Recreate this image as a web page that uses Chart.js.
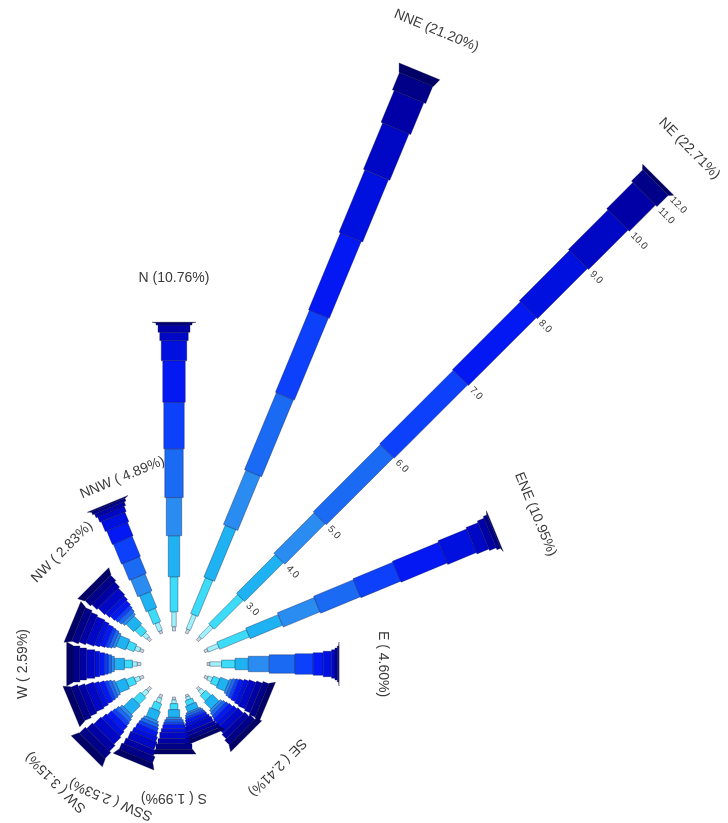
<!DOCTYPE html>
<html>
<head>
<meta charset="utf-8">
<title>Wind rose</title>
<script src="https://cdn.jsdelivr.net/npm/chart.js@4.4.1/dist/chart.umd.min.js"></script>
<style>
  html, body { margin: 0; padding: 0; background: #fff; }
  #wrap { width: 728px; height: 823px; }
</style>
</head>
<body>
<div id="wrap"><canvas id="rose" width="728" height="823"></canvas></div>
<script>
// compass sectors, clockwise from north
const directions = ['N', 'NNE', 'NE', 'ENE', 'E', 'ESE', 'SE', 'SSE', 'S', 'SSW', 'SW', 'WSW', 'W', 'WNW', 'NW', 'NNW'];
const directionTotals = [10.76, 21.20, 22.71, 10.95, 4.60, 2.36, 2.41, 1.63, 1.99, 2.53, 3.15, 2.72, 2.59, 2.68, 2.83, 4.89];
const labelledDirections = ['N', 'NNE', 'NE', 'ENE', 'E', 'SE', 'S', 'SSW', 'SW', 'W', 'NW', 'NNW'];

// wind speed classes (m/s) and the speed ticks written along the NE bar
const speedClasses = ['0-1', '1-2', '2-3', '3-4', '4-5', '5-6', '6-7', '7-8', '8-9', '9-10', '10-11', '11-12', '>12'];
const speedTicks = ['3.0', '4.0', '5.0', '6.0', '7.0', '8.0', '9.0', '10.0', '11.0', '12.0'];
const tickDirection = 'NE';

// frequency (%) of each speed class, per direction
const freqN   = [0.15, 0.52, 1.22, 1.43, 1.33, 1.70, 1.62, 1.45, 0.70, 0.29, 0.25, 0.07, 0.03];
const freqNNE = [0.15, 0.55, 1.35, 1.95, 2.05, 2.90, 3.10, 2.90, 2.35, 1.75, 1.20, 0.65, 0.30];
const freqNE  = [0.15, 0.55, 1.43, 1.91, 1.99, 3.31, 3.62, 3.35, 2.47, 1.95, 1.29, 0.56, 0.13];
const freqENE = [0.12, 0.40, 1.12, 1.22, 1.39, 1.50, 1.50, 1.74, 1.08, 0.45, 0.25, 0.14, 0.04];
const freqE   = [0.10, 0.41, 0.47, 0.46, 0.73, 0.90, 0.63, 0.35, 0.29, 0.12, 0.08, 0.05, 0.01];
const freqESE = [0.12, 0.16, 0.25, 0.32, 0.09, 0.11, 0.11, 0.16, 0.16, 0.26, 0.21, 0.22, 0.19];
const freqSE  = [0.12, 0.16, 0.26, 0.33, 0.09, 0.11, 0.11, 0.16, 0.16, 0.27, 0.21, 0.23, 0.20];
const freqSSE = [0.08, 0.11, 0.18, 0.22, 0.06, 0.08, 0.08, 0.11, 0.11, 0.18, 0.14, 0.15, 0.13];
const freqS   = [0.10, 0.13, 0.21, 0.27, 0.08, 0.09, 0.09, 0.13, 0.13, 0.22, 0.18, 0.19, 0.17];
const freqSSW = [0.13, 0.17, 0.27, 0.34, 0.10, 0.12, 0.12, 0.17, 0.17, 0.28, 0.22, 0.24, 0.20];
const freqSW  = [0.16, 0.21, 0.34, 0.43, 0.12, 0.14, 0.14, 0.21, 0.21, 0.35, 0.28, 0.29, 0.27];
const freqWSW = [0.14, 0.18, 0.29, 0.37, 0.11, 0.12, 0.12, 0.18, 0.18, 0.30, 0.24, 0.25, 0.24];
const freqW   = [0.13, 0.17, 0.28, 0.35, 0.10, 0.12, 0.12, 0.17, 0.17, 0.29, 0.23, 0.24, 0.22];
const freqWNW = [0.13, 0.18, 0.29, 0.36, 0.10, 0.12, 0.12, 0.18, 0.18, 0.30, 0.24, 0.25, 0.23];
const freqNW  = [0.14, 0.19, 0.31, 0.38, 0.11, 0.13, 0.13, 0.19, 0.19, 0.32, 0.25, 0.26, 0.23];
const freqNNW = [0.10, 0.30, 0.50, 0.60, 0.64, 0.63, 0.75, 0.51, 0.37, 0.20, 0.14, 0.10, 0.05];

const freqByDir = [freqN, freqNNE, freqNE, freqENE, freqE, freqESE, freqSE, freqSSE,
                   freqS, freqSSW, freqSW, freqWSW, freqW, freqWNW, freqNW, freqNNW];

// look of the bars
const classColors = ['#c6d8dc', '#9ef0fa', '#3cdcf8', '#1eb2f2', '#2a8cf0', '#1a6af4', '#0c40fa', '#0418f4',
                     '#0010de', '#0008c6', '#0000a6', '#000088', '#000066'];
const classWidthPx    = [3, 4.5, 8, 11.5, 15.5, 18.5, 20.5, 22.5, 25.5, 28.5, 32, 36, 37];
const classEndWidthPx = [3, 4.5, 8, 11.5, 15.5, 18.5, 20.5, 22.5, 25.5, 28.5, 32, 36, 44];

const PX_PER_PCT = 28.7;            // pixels per percent along a bar
const CENTER = { x: 174, y: 664 };  // pixel position of the rose centre
const HOLE = 33 / PX_PER_PCT;       // empty circle in the middle
const LABEL_GAP_PX = 44;
// a couple of labels sit a little off their own axis in the original
const labelGapPx = { NNW: 20 };
const labelTurnDeg = { NNW: 7, SSW: 2.5 };

const rad = d => d * Math.PI / 180;
const axisOf = deg => {
  const a = rad(deg);
  return { a, ux: Math.sin(a), uy: Math.cos(a), px: Math.cos(a), py: -Math.sin(a) };
};

// one closed polygon per (direction, speed class) segment
const datasets = [];
directions.forEach((dir, di) => {
  const { ux, uy, px, py } = axisOf(di * 22.5);
  let r = HOLE;
  freqByDir[di].forEach((f, ci) => {
    if (f <= 0) return;
    const r0 = r, r1 = r + f;
    const h0 = classWidthPx[ci] / 2 / PX_PER_PCT;
    const h1 = classEndWidthPx[ci] / 2 / PX_PER_PCT;
    datasets.push({
      label: dir + ' ' + speedClasses[ci],
      data: [
        { x: r0 * ux + h0 * px, y: r0 * uy + h0 * py },
        { x: r1 * ux + h1 * px, y: r1 * uy + h1 * py },
        { x: r1 * ux - h1 * px, y: r1 * uy - h1 * py },
        { x: r0 * ux - h0 * px, y: r0 * uy - h0 * py }
      ],
      backgroundColor: classColors[ci],
      borderColor: 'rgba(0, 0, 50, 0.45)',
      borderWidth: 0.7,
      pointRadius: 0,
      pointHoverRadius: 0
    });
    r = r1;
  });
});

const rosePlugin = {
  id: 'rose',
  afterDatasetsDraw(chart) {
    const ctx = chart.ctx;
    const sx = v => chart.scales.x.getPixelForValue(v);
    const sy = v => chart.scales.y.getPixelForValue(v);

    chart.data.datasets.forEach((ds, i) => {
      const pts = chart.getDatasetMeta(i).data;
      ctx.beginPath();
      pts.forEach((p, j) => j ? ctx.lineTo(p.x, p.y) : ctx.moveTo(p.x, p.y));
      ctx.closePath();
      ctx.fillStyle = ds.backgroundColor;
      ctx.fill();
      ctx.strokeStyle = ds.borderColor;
      ctx.lineWidth = ds.borderWidth;
      ctx.stroke();
    });

    // direction labels, turned to face outwards
    ctx.save();
    ctx.fillStyle = '#3a3a3a';
    ctx.font = '14px "Liberation Sans", Arial, sans-serif';
    ctx.textAlign = 'center';
    ctx.textBaseline = 'middle';
    labelledDirections.forEach(dir => {
      const di = directions.indexOf(dir);
      const deg = di * 22.5;
      const { ux, uy } = axisOf(deg + (labelTurnDeg[dir] || 0));
      const total = directionTotals[di];
      const gap = (labelGapPx[dir] !== undefined ? labelGapPx[dir] : LABEL_GAP_PX) / PX_PER_PCT;
      const R = HOLE + total + gap;
      ctx.save();
      ctx.translate(sx(R * ux), sy(R * uy));
      ctx.rotate(rad(deg));
      ctx.fillText(dir + ' (' + total.toFixed(2).padStart(5, ' ') + '%)', 0, 0);
      ctx.restore();
    });

    // speed ticks along one bar
    const ti = directions.indexOf(tickDirection);
    const { a, ux, uy, px, py } = axisOf(ti * 22.5);
    const f = freqByDir[ti];
    ctx.font = '10px "Liberation Sans", Arial, sans-serif';
    ctx.textAlign = 'left';
    let cum = HOLE;
    f.forEach((v, ci) => {
      cum += v;
      const k = ci - 2;
      if (k < 0 || k >= speedTicks.length) return;
      const hw = Math.max(classEndWidthPx[ci], classWidthPx[ci + 1] || 0) / 2 + 4;
      const off = hw / PX_PER_PCT;
      ctx.save();
      ctx.translate(sx(cum * ux + off * px), sy(cum * uy + off * py));
      ctx.rotate(a);
      ctx.fillText(speedTicks[k], 0, 0);
      ctx.restore();
    });
    ctx.restore();
  }
};

new Chart(document.getElementById('rose'), {
  type: 'scatter',
  data: { datasets },
  options: {
    responsive: false,
    animation: false,
    devicePixelRatio: 1,
    layout: { padding: 0 },
    plugins: { legend: { display: false }, tooltip: { enabled: false } },
    scales: {
      x: { type: 'linear', display: false, min: -CENTER.x / PX_PER_PCT, max: (728 - CENTER.x) / PX_PER_PCT },
      y: { type: 'linear', display: false, min: -(823 - CENTER.y) / PX_PER_PCT, max: CENTER.y / PX_PER_PCT }
    }
  },
  plugins: [rosePlugin]
});
</script>
</body>
</html>
